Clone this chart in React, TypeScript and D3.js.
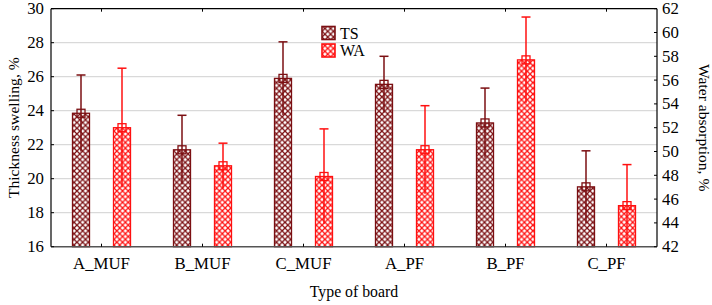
import React from "react";
import * as d3 from "d3";

const boards = ["A_MUF", "B_MUF", "C_MUF", "A_PF", "B_PF", "C_PF"];
const tsMean = [23.85, 21.7, 25.9, 25.55, 23.28, 19.52];
const tsErr = [2.25, 2.03, 2.15, 1.65, 2.05, 2.12];
const waMean = [52.0, 48.8, 47.9, 50.15, 57.7, 45.45];
const waErr = [5.0, 1.9, 4.0, 3.7, 3.6, 3.45];
const leftTicks = [16, 18, 20, 22, 24, 26, 28, 30];
const rightTicks = [42, 44, 46, 48, 50, 52, 54, 56, 58, 60, 62];

const W = 712;
const H = 305;
const M = { left: 51, right: 657, top: 8.7, bottom: 246.7 };
const FONT = "'Liberation Serif', 'Times New Roman', serif";
const TS_COLOR = "#7b0f12";
const WA_COLOR = "#ff1010";

export default function App() {
  const x = d3.scaleBand<string>().domain(boards).range([M.left, M.right]);
  const yL = d3.scaleLinear().domain([16, 30]).range([M.bottom, M.top]);
  const yR = d3.scaleLinear().domain([42, 62]).range([M.bottom, M.top]);
  const barW = 17;
  const offset = 20.5;
  const capW = 9;
  const box = 8;

  const series = [
    { key: "TS", mean: tsMean, err: tsErr, y: yL, color: TS_COLOR, pat: "patTS", dx: -offset, base: 16 },
    { key: "WA", mean: waMean, err: waErr, y: yR, color: WA_COLOR, pat: "patWA", dx: offset, base: 42 },
  ];

  const tile = 5.7;

  return (
    <svg
      width={W}
      height={H}
      style={{ position: "absolute", left: 0, top: 0, background: "#fff" }}
      fontFamily={FONT}
    >
      <defs>
        {series.map((s) => (
          <pattern key={s.pat} id={s.pat} width={tile} height={tile} patternUnits="userSpaceOnUse">
            <rect width={tile} height={tile} fill="#fff" />
            <path d={`M0,0L${tile},${tile}M${tile},0L0,${tile}`} stroke={s.color} strokeWidth={1.25} />
            <path
              d={`M-1,1L1,-1M${tile - 1},${tile + 1}L${tile + 1},${tile - 1}M-1,${tile - 1}L1,${tile + 1}M${tile - 1},-1L${tile + 1},1`}
              stroke={s.color}
              strokeWidth={1.25}
            />
          </pattern>
        ))}
      </defs>

      {/* gridlines */}
      {leftTicks.slice(1, -1).map((t) => (
        <line key={t} x1={M.left} x2={M.right} y1={yL(t)} y2={yL(t)} stroke="#d9d9d9" strokeWidth={1.3} />
      ))}

      {/* bars with error bars */}
      {series.map((s) =>
        boards.map((b, i) => {
          const cx = x(b)! + x.bandwidth() / 2 + s.dx;
          const top = s.y(s.mean[i]);
          const hi = s.y(s.mean[i] + s.err[i]);
          const lo = s.y(s.mean[i] - s.err[i]);
          return (
            <g key={s.key + b}>
              <rect
                x={cx - barW / 2}
                y={top}
                width={barW}
                height={s.y(s.base) - top}
                fill={`url(#${s.pat})`}
                stroke={s.color}
                strokeWidth={1.3}
              />
              <line x1={cx} x2={cx} y1={hi} y2={lo} stroke={s.color} strokeWidth={1.5} />
              <line x1={cx - capW / 2} x2={cx + capW / 2} y1={hi} y2={hi} stroke={s.color} strokeWidth={1.5} />
              <rect x={cx - box / 2} y={top - box / 2} width={box} height={box} fill="none" stroke={s.color} strokeWidth={1.3} />
            </g>
          );
        })
      )}

      {/* frame */}
      <line x1={M.left} x2={M.right} y1={M.top} y2={M.top} stroke="#000" strokeWidth={1.2} />
      <line x1={M.right} x2={M.right} y1={M.top} y2={M.bottom} stroke="#000" strokeWidth={1.2} />
      <line x1={M.left} x2={M.left} y1={M.top} y2={M.bottom} stroke="#000" strokeWidth={1.2} />
      <line x1={M.left} x2={M.right} y1={M.bottom} y2={M.bottom} stroke="#555" strokeWidth={1.6} />

      {/* category ticks top and bottom */}
      {boards.map((b) => {
        const cx = x(b)! + x.bandwidth() / 2;
        return (
          <g key={"t" + b}>
            <line x1={cx} x2={cx} y1={M.top} y2={M.top + 3} stroke="#000" strokeWidth={1} />
            <line x1={cx} x2={cx} y1={M.bottom} y2={M.bottom - 3} stroke="#000" strokeWidth={1} />
            <text x={cx} y={269} textAnchor="middle" fontSize={16.8}>
              {b}
            </text>
          </g>
        );
      })}

      {/* left axis */}
      {leftTicks.map((t) => (
        <g key={"l" + t}>
          <line x1={M.left} x2={M.left + 3} y1={yL(t)} y2={yL(t)} stroke="#000" />
          <text x={44} y={yL(t) + 5.5} textAnchor="end" fontSize={16.8}>
            {t}
          </text>
        </g>
      ))}

      {/* right axis */}
      {rightTicks.map((t) => (
        <g key={"r" + t}>
          <line x1={M.right} x2={M.right - 3} y1={yR(t)} y2={yR(t)} stroke="#000" />
          <text x={662} y={yR(t) + 5.5} textAnchor="start" fontSize={16.8}>
            {t}
          </text>
        </g>
      ))}

      <text transform={`translate(19,${(M.top + M.bottom) / 2}) rotate(-90)`} textAnchor="middle" fontSize={15.6}>
        Thickness swelling, %
      </text>
      <text transform={`translate(699,${(M.top + M.bottom) / 2}) rotate(90)`} textAnchor="middle" fontSize={15.6}>
        Water absorption, %
      </text>
      <text x={(M.left + M.right) / 2} y={297} textAnchor="middle" fontSize={15.8}>
        Type of board
      </text>

      {/* legend */}
      {series.map((s, i) => (
        <g key={"lg" + s.key}>
          <rect x={322} y={26.5 + i * 17.5} width={13} height={13} fill={`url(#${s.pat})`} stroke={s.color} strokeWidth={1.6} />
          <text x={340} y={38.5 + i * 17.5} fontSize={16}>
            {s.key}
          </text>
        </g>
      ))}
    </svg>
  );
}
